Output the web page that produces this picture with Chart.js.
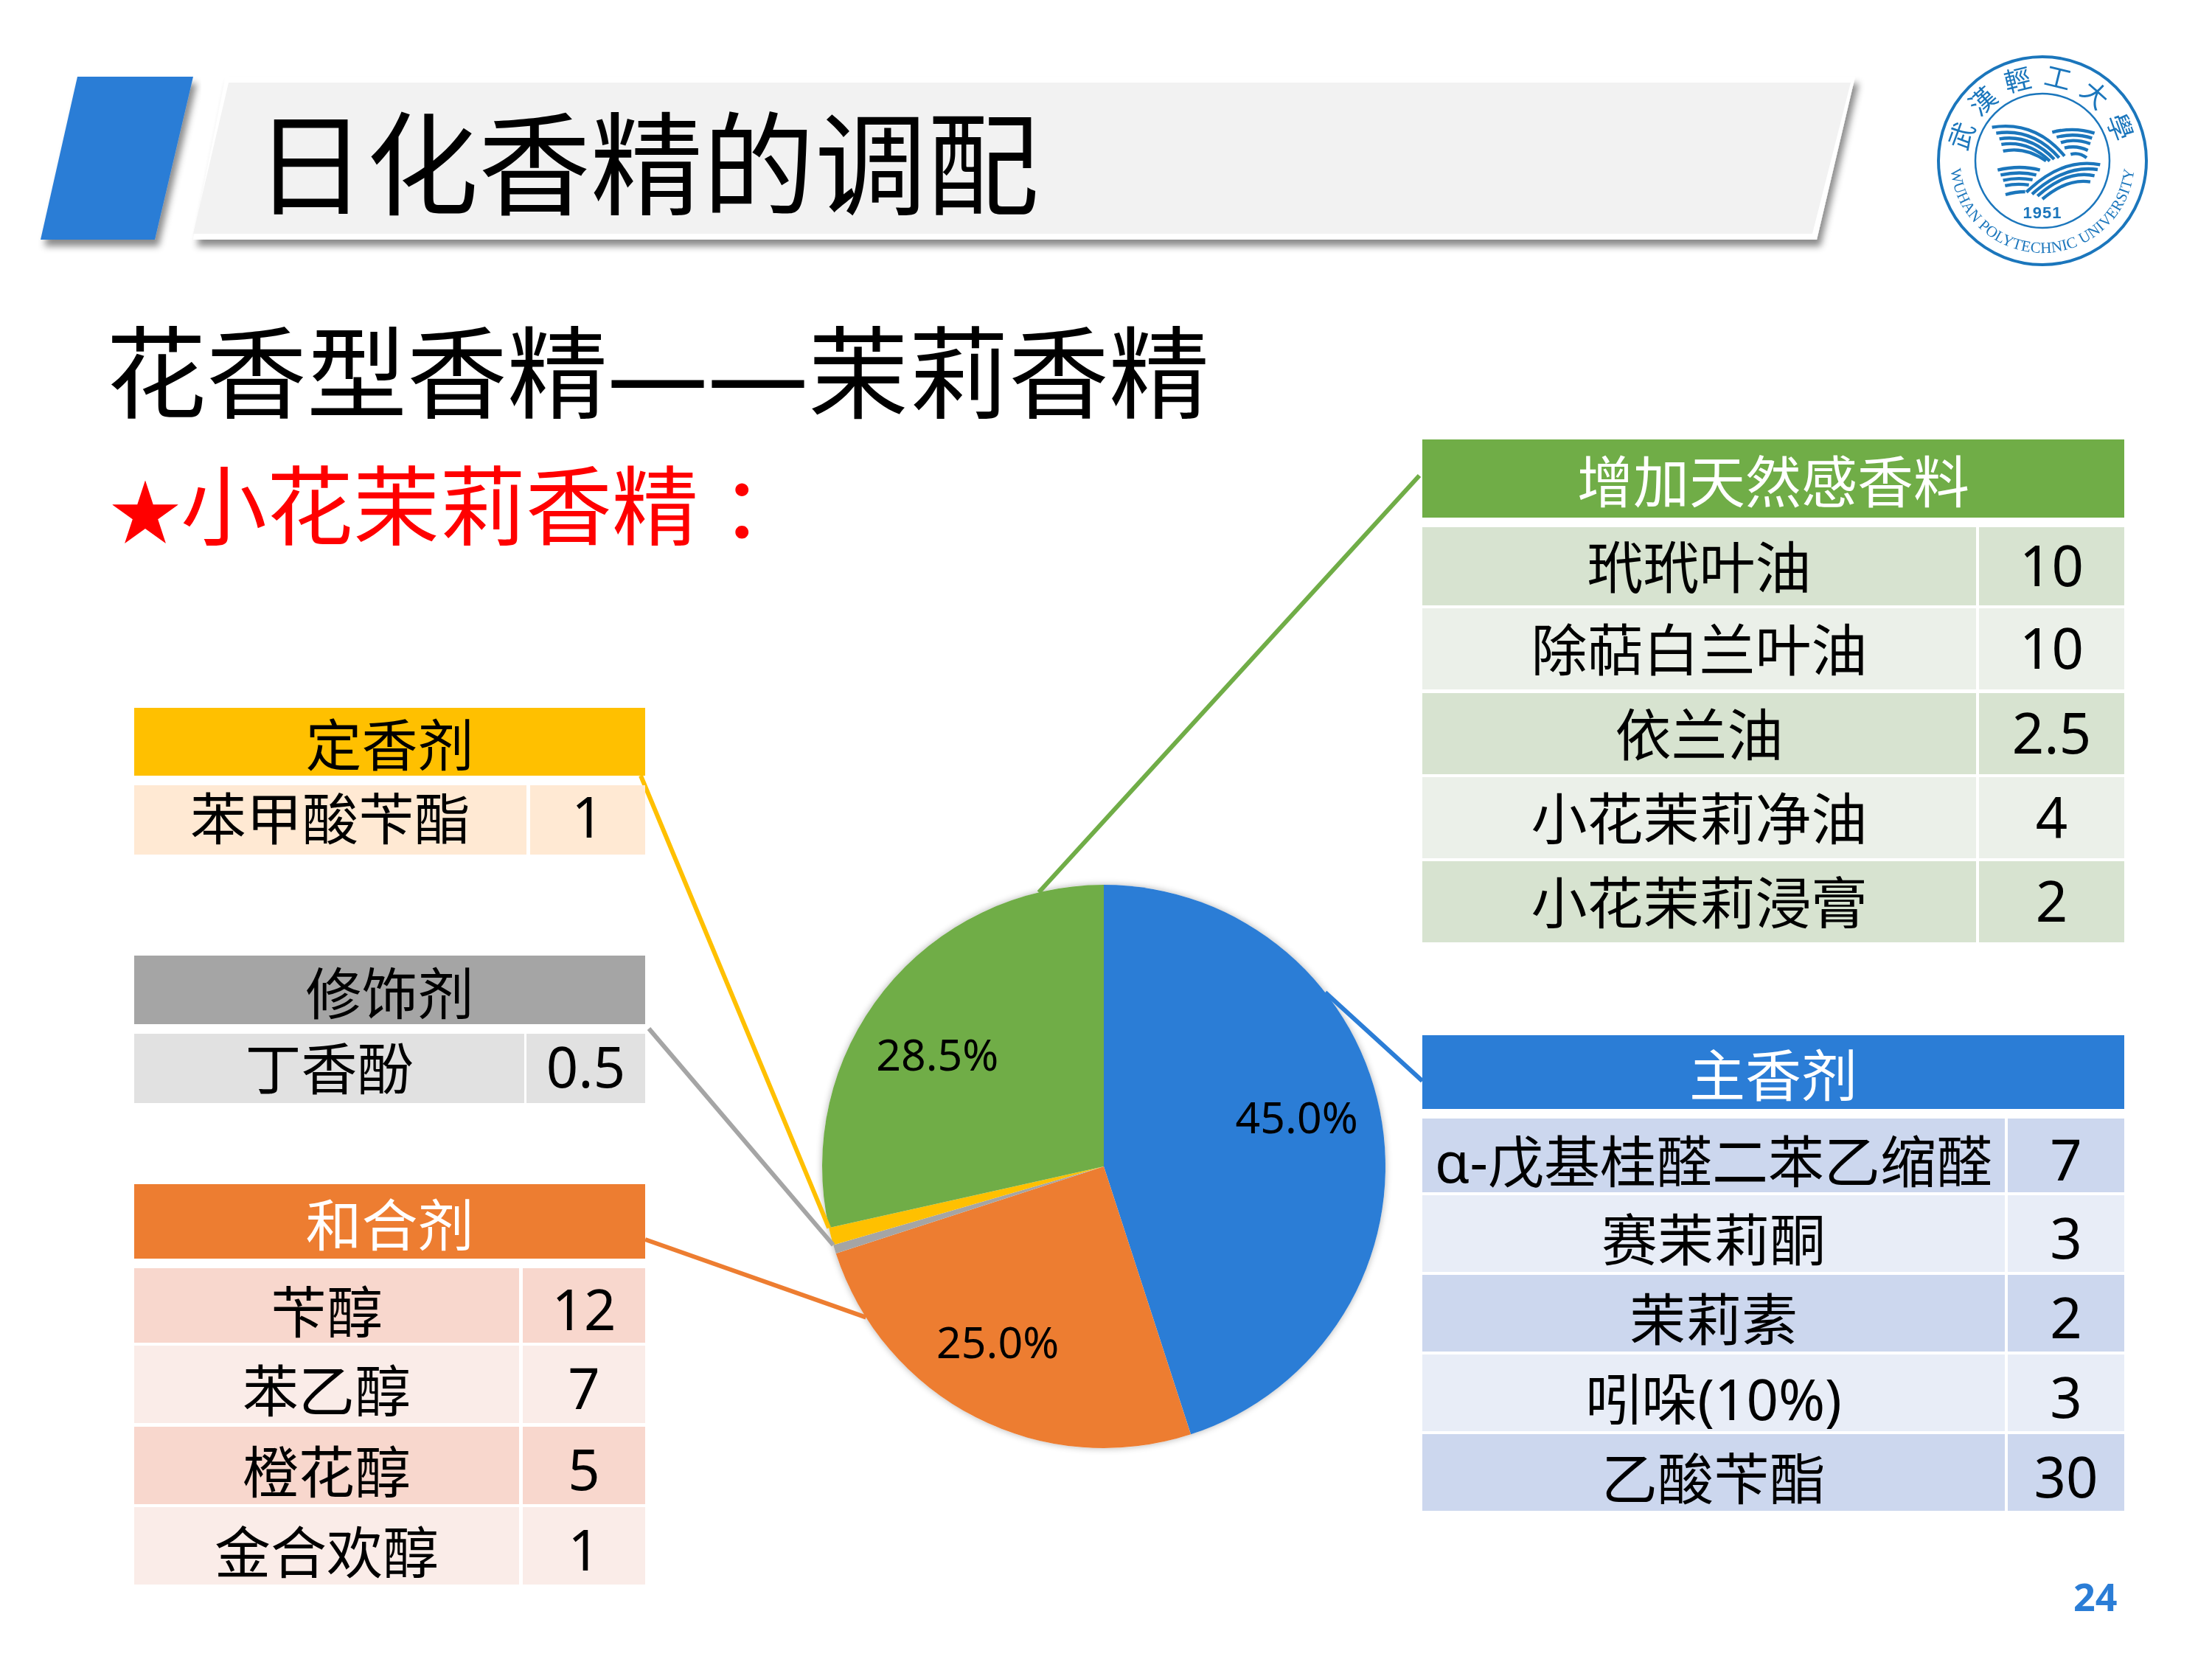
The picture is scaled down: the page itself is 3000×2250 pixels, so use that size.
<!DOCTYPE html>
<html lang="zh-CN">
  <head>
    <title>日化香精的调配</title>
    <meta charset="UTF-8" />
    <style>
      html, body { margin: 0; background: #fff; }
      body { position: relative; width: 3000px; height: 2250px; overflow: hidden;
        font-family: "Noto Sans", "Noto Sans CJK SC", sans-serif; color: #000; }
      #myPieChart, #deco { position: absolute; left: 0; top: 0; }
      .t { position: absolute; white-space: nowrap; }
      .c { position: absolute; display: flex; align-items: center; justify-content: center;
        white-space: nowrap; font-size: 76px; }
      .c span { position: relative; }
    </style>
  </head>
  <body>
    <canvas id="myPieChart" width="3000" height="2250"></canvas>

    <svg id="deco" width="3000" height="2250" xmlns="http://www.w3.org/2000/svg">
      <defs>
        <filter id="sh" x="-5%" y="-10%" width="110%" height="125%">
          <feDropShadow dx="5" dy="9" stdDeviation="5" flood-color="#000" flood-opacity="0.45" />
        </filter>
        <path id="logoTop" d="M 2770 319 A 101 101 0 1 1 2770 117 A 101 101 0 1 1 2770 319" />
        <path id="logoBottom" d="M 2770 93 A 125 125 0 1 0 2770 343 A 125 125 0 1 0 2770 93" />
      </defs>
      <polygon points="105,104 262,104 210,325 55,325" fill="#2B7DD6" filter="url(#sh)" />
      <polygon points="306,104 2516,104 2464,325 262,325" fill="#fff" filter="url(#sh)" />
      <polygon points="310,112 2510,112 2458,317 262,317" fill="#F2F2F2" />

      <!-- school badge -->
      <g fill="none" stroke="#1B76BC">
        <circle cx="2770" cy="218" r="141" stroke-width="4" />
        <circle cx="2770" cy="218" r="91" stroke-width="2.5" />
      </g>
      <g fill="#1B76BC" text-anchor="middle">
        <text font-size="36" font-family="Noto Sans CJK TC" letter-spacing="13">
          <textPath href="#logoTop" startOffset="50%">武漢輕工大學</textPath>
        </text>
        <text font-size="21" font-family="Liberation Serif" letter-spacing="0.3">
          <textPath href="#logoBottom" startOffset="50%">WUHAN POLYTECHNIC UNIVERSITY</textPath>
        </text>
        <text x="2770" y="296" font-size="22" font-weight="700" font-family="Liberation Sans" letter-spacing="1">1951</text>
      </g>
      <g transform="translate(2600 50) scale(0.3333)" fill="none" stroke="#1B76BC" stroke-width="13">
        <path d="M305 368 Q480 340 600 485" />
        <path d="M322 392 Q470 370 578 492" />
        <path d="M335 415 Q460 395 558 498" />
        <path d="M343 438 Q450 420 540 505" />
        <path d="M350 465 Q440 445 525 505" />
        <path d="M550 388 Q640 365 722 392" />
        <path d="M568 408 Q640 390 712 412" />
        <path d="M585 430 Q640 412 705 435" />
        <path d="M600 452 Q650 440 695 462" />
        <path d="M625 478 Q660 468 690 492" />
        <path d="M328 542 Q420 520 500 542" />
        <path d="M340 562 Q420 545 485 562" />
        <path d="M350 584 Q410 570 470 582" />
        <path d="M358 606 Q405 595 455 603" />
        <path d="M360 642 Q400 630 440 630" />
        <path d="M745 520 Q590 490 445 632" />
        <path d="M735 540 Q600 520 468 640" />
        <path d="M722 565 Q610 540 490 648" />
        <path d="M705 590 Q610 575 510 660" />
      </g>
    </svg>

    <div class="t" style="left: 345px; top: 112px; font-size: 152px; line-height: 220px">日化香精的调配</div>
    <div class="t" style="left: 144px; top: 395px; font-size: 136px; line-height: 220px">花香型香精——茉莉香精</div>
    <div class="t" style="left: 149px; top: 575px; font-size: 117px; line-height: 220px; color: #f00"><span style="font-size: 96px">★</span>小花茉莉香精<span style="margin-left: 30px">：</span></div>
    <div class="t" style="left: 2812px; top: 2130px; font-size: 52px; line-height: 70px; font-weight: 700; color: #2B7DD6">24</div>

    <script src="https://cdn.jsdelivr.net/npm/chart.js@4"></script>
    <script>
      // pie
      const sliceNames = ["主香剂", "和合剂", "修饰剂", "定香剂", "增加天然感香料"];
      const sliceShares = [45, 25, 0.5, 1, 28.5];

      // tables
      const mainNames = ["α-戊基桂醛二苯乙缩醛", "赛茉莉酮", "茉莉素", "吲哚(10%)", "乙酸苄酯"];
      const mainAmounts = ["7", "3", "2", "3", "30"];
      const blendNames = ["苄醇", "苯乙醇", "橙花醇", "金合欢醇"];
      const blendAmounts = ["12", "7", "5", "1"];
      const modifierNames = ["丁香酚"];
      const modifierAmounts = ["0.5"];
      const fixativeNames = ["苯甲酸苄酯"];
      const fixativeAmounts = ["1"];
      const naturalNames = ["玳玳叶油", "除萜白兰叶油", "依兰油", "小花茉莉净油", "小花茉莉浸膏"];
      const naturalAmounts = ["10", "10", "2.5", "4", "2"];

      const sliceColors = ["#2B7DD6", "#ED7D31", "#A5A5A5", "#FFC000", "#70AD47"];

      // where each table sits on the slide, dy moves the row text
      const tables = [
        { title: sliceNames[3], names: fixativeNames, amounts: fixativeAmounts, head: "#FFC000", ink: "#000",
          left: 182, right: 875, col1: 714, col2: 719, headY: [960, 1052], dy: -6,
          rows: [[1065, 1159]], fills: ["#FFE9D3"] },
        { title: sliceNames[2], names: modifierNames, amounts: modifierAmounts, head: "#A5A5A5", ink: "#000",
          left: 182, right: 875, col1: 711, col2: 714, headY: [1296, 1389], dy: -4,
          rows: [[1402, 1496]], fills: ["#E1E1E1"] },
        { title: sliceNames[1], names: blendNames, amounts: blendAmounts, head: "#ED7D31", ink: "#fff",
          left: 182, right: 875, col1: 704, col2: 709, headY: [1606, 1707], dy: 4,
          rows: [[1720, 1821], [1825, 1930], [1935, 2040], [2044, 2149]], fills: ["#F8D7CD", "#FAECE8"] },
        { title: sliceNames[4], names: naturalNames, amounts: naturalAmounts, head: "#70AD47", ink: "#fff",
          left: 1929, right: 2881, col1: 2680, col2: 2684, headY: [596, 702], dy: -3,
          rows: [[715, 821], [825, 935], [940, 1050], [1054, 1164], [1168, 1278]], fills: ["#D7E3D0", "#EBF0E9"] },
        { title: sliceNames[0], names: mainNames, amounts: mainAmounts, head: "#2B7DD6", ink: "#fff",
          left: 1929, right: 2881, col1: 2719, col2: 2723, headY: [1404, 1504], dy: 4,
          rows: [[1517, 1617], [1621, 1725], [1729, 1833], [1837, 1941], [1945, 2049]], fills: ["#CCD7EE", "#E8EDF7"] },
      ];

      function addCell(text, x0, x1, y0, y1, fill, ink, dy) {
        var d = document.createElement("div");
        var s = document.createElement("span");
        d.className = "c";
        s.textContent = text;
        s.style.top = dy + "px";
        d.appendChild(s);
        d.style.left = x0 + "px";
        d.style.top = y0 + "px";
        d.style.width = x1 - x0 + "px";
        d.style.height = y1 - y0 + "px";
        d.style.background = fill;
        d.style.color = ink;
        document.body.appendChild(d);
      }

      tables.forEach(function (t) {
        addCell(t.title, t.left, t.right, t.headY[0], t.headY[1], t.head, t.ink, 0);
        t.rows.forEach(function (r, i) {
          var fill = t.fills[i % t.fills.length];
          addCell(t.names[i], t.left, t.col1, r[0], r[1], fill, "#000", t.dy);
          addCell(t.amounts[i], t.col2, t.right, r[0], r[1], fill, "#000", t.dy);
        });
      });

      // leader lines: table end, and how far along the slice's outer edge they land
      const leaders = [
        { from: [1929, 1466], along: 0.32 },
        { from: [875, 1681], along: 0.84 },
        { from: [880, 1395], along: 1 },
        { from: [869, 1052], along: 1 },
        { from: [1925, 645], along: 0.87 },
      ];
      // label nudges off the default spot at 0.72 of the radius, null = no label
      const labelNudges = [[-10, -19], [-19, -2], null, null, [-11, 25]];

      const pieExtras = {
        id: "pieExtras",
        beforeDatasetsDraw(chart) {
          var a = chart.getDatasetMeta(0).data[0];
          var ctx = chart.ctx;
          ctx.save();
          ctx.shadowColor = "rgba(0,0,0,0.3)";
          ctx.shadowBlur = 10;
          ctx.fillStyle = "#fff";
          ctx.beginPath();
          ctx.arc(a.x, a.y, a.outerRadius, 0, Math.PI * 2);
          ctx.fill();
          ctx.restore();
        },
        afterDatasetsDraw(chart) {
          var ctx = chart.ctx;
          var arcs = chart.getDatasetMeta(0).data;
          ctx.save();
          arcs.forEach(function (arc, i) {
            var ang = arc.startAngle + (arc.endAngle - arc.startAngle) * leaders[i].along;
            ctx.strokeStyle = sliceColors[i];
            ctx.lineWidth = 6;
            ctx.beginPath();
            ctx.moveTo(leaders[i].from[0], leaders[i].from[1]);
            ctx.lineTo(arc.x + Math.cos(ang) * arc.outerRadius, arc.y + Math.sin(ang) * arc.outerRadius);
            ctx.stroke();
          });
          ctx.fillStyle = "#000";
          ctx.font = '59px "Noto Sans"';
          ctx.textAlign = "center";
          ctx.textBaseline = "middle";
          arcs.forEach(function (arc, i) {
            if (!labelNudges[i]) return;
            var mid = (arc.startAngle + arc.endAngle) / 2;
            var lx = arc.x + Math.cos(mid) * arc.outerRadius * 0.72 + labelNudges[i][0];
            var ly = arc.y + Math.sin(mid) * arc.outerRadius * 0.72 + labelNudges[i][1];
            ctx.fillText(sliceShares[i].toFixed(1) + "%", lx, ly);
          });
          ctx.restore();
        },
      };

      var ctx = document.getElementById("myPieChart");
      var myPieChart = new Chart(ctx, {
        type: "pie",
        data: {
          labels: sliceNames,
          datasets: [
            {
              data: sliceShares,
              backgroundColor: sliceColors,
              borderWidth: 0,
              hoverOffset: 0,
            },
          ],
        },
        options: {
          responsive: false,
          devicePixelRatio: 1,
          animation: false,
          events: [],
          layout: { padding: { left: 1115, right: 1121, top: 1200, bottom: 286 } },
          plugins: { legend: { display: false }, tooltip: { enabled: false } },
        },
        plugins: [pieExtras],
      });
    </script>
  </body>
</html>
